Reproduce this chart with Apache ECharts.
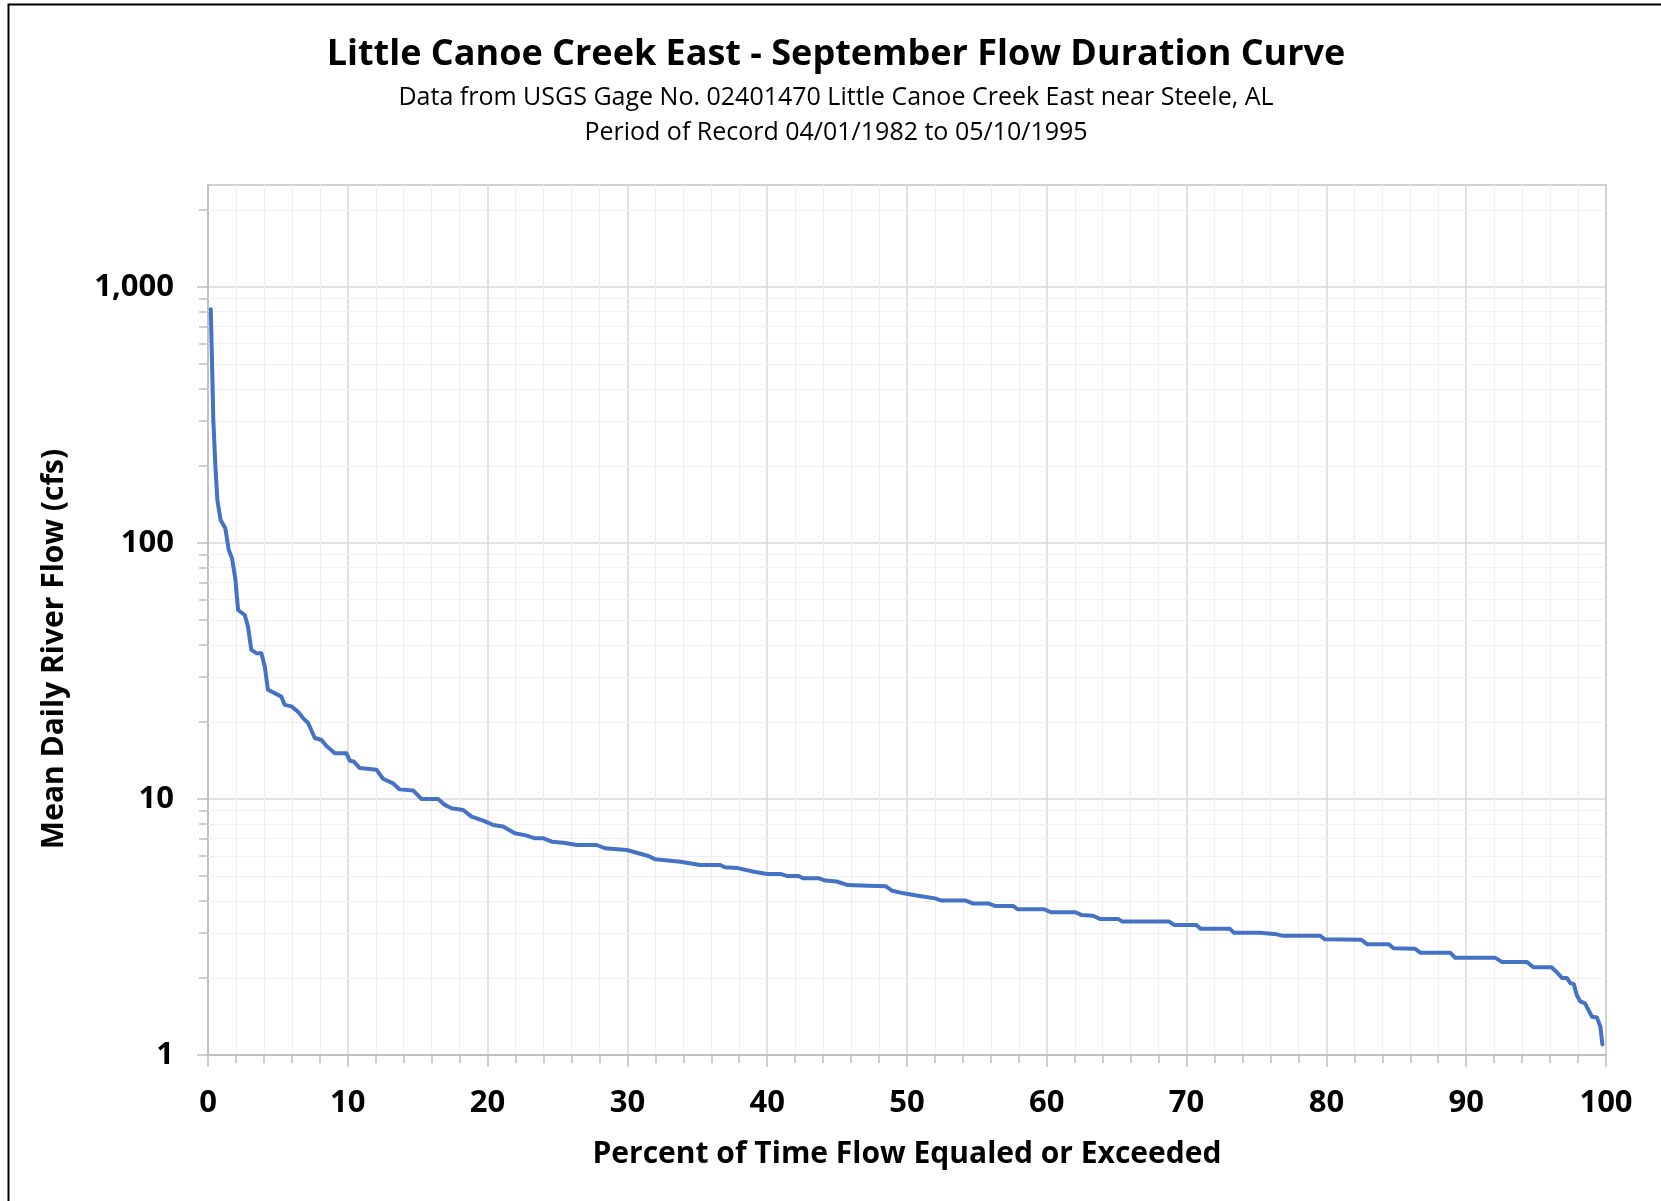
<!DOCTYPE html>
<html>
<head>
<meta charset="utf-8">
<title>Little Canoe Creek East - September Flow Duration Curve</title>
<script src="https://cdn.jsdelivr.net/npm/echarts@6/dist/echarts.min.js"></script>
<style>
  html, body { margin: 0; padding: 0; background: #fff; }
  #chart { width: 1661px; height: 1201px; }
</style>
</head>
<body>
<div id="chart"></div>
<script>
// percent of time flow equaled or exceeded
var pct = [0.2, 0.29, 0.38, 0.53, 0.67, 0.9, 1.24, 1.48, 1.72, 1.96,
  2.15, 2.63, 2.86, 3.1, 3.46, 3.82, 4.06, 4.29, 4.77, 5.25,
  5.49, 5.97, 6.44, 6.8, 7.16, 7.64, 8.12, 8.47, 8.83, 9.07,
  9.9, 10.14, 10.43, 10.86, 12.05, 12.52, 13.24, 13.72, 14.67, 15.27,
  16.46, 16.94, 17.42, 18.25, 18.85, 19.68, 20.4, 21.1, 21.95, 22.8,
  23.4, 24.0, 24.6, 25.4, 26.4, 27.8, 28.4, 29.95, 31.5, 32.0,
  33.8, 35.2, 36.65, 36.97, 37.9, 39.05, 40.0, 41.0, 41.45, 42.25,
  42.56, 43.7, 44.16, 44.96, 45.77, 47.2, 48.5, 48.95, 49.76, 50.9,
  52.0, 52.47, 54.2, 54.7, 55.8, 56.3, 57.6, 57.9, 59.8, 60.3,
  62.05, 62.5, 63.3, 63.8, 65.1, 65.4, 68.76, 69.1, 70.7, 71.0,
  73.1, 73.4, 75.25, 76.45, 76.9, 79.55, 79.9, 82.5, 82.9, 84.45,
  84.8, 86.35, 86.7, 88.85, 89.2, 92.06, 92.55, 94.35, 94.8, 96.1,
  96.5, 96.85, 97.2, 97.45, 97.7, 97.9, 98.15, 98.5, 99.0, 99.35,
  99.6, 99.74];
// mean daily river flow, cfs
var flow = [818, 504, 302, 199, 147, 123, 114, 94, 87, 72,
  54.7, 52.3, 47.1, 38.2, 37.1, 37.1, 32.9, 26.7, 25.9, 25.1,
  23.3, 23.0, 21.9, 20.7, 19.8, 17.3, 17.0, 16.1, 15.5, 15.1,
  15.1, 14.1, 14.0, 13.2, 13.0, 12.0, 11.5, 10.9, 10.8, 10.0,
  10.0, 9.48, 9.2, 9.06, 8.53, 8.23, 7.91, 7.8, 7.35, 7.19,
  7.02, 7.02, 6.81, 6.75, 6.61, 6.61, 6.42, 6.32, 5.99, 5.81,
  5.69, 5.52, 5.52, 5.41, 5.37, 5.2, 5.09, 5.09, 5.0, 5.0,
  4.9, 4.9, 4.8, 4.76, 4.61, 4.58, 4.56, 4.38, 4.28, 4.18,
  4.09, 4.01, 4.01, 3.91, 3.91, 3.82, 3.82, 3.71, 3.71, 3.61,
  3.61, 3.52, 3.5, 3.4, 3.4, 3.32, 3.32, 3.22, 3.22, 3.11,
  3.11, 3.0, 3.0, 2.96, 2.92, 2.92, 2.83, 2.82, 2.71, 2.71,
  2.61, 2.6, 2.51, 2.51, 2.4, 2.4, 2.31, 2.31, 2.2, 2.2,
  2.1, 2.0, 2.0, 1.91, 1.89, 1.72, 1.62, 1.59, 1.41, 1.4,
  1.29, 1.10];

// log axis minor lines (2..9 of each decade)
var yMinor = [2, 3, 4, 5, 6, 7, 8, 9,
  20, 30, 40, 50, 60, 70, 80, 90,
  200, 300, 400, 500, 600, 700, 800, 900, 2000];

var titleText = 'Little Canoe Creek East - September Flow Duration Curve';
var subLines = ['Data from USGS Gage No. 02401470 Little Canoe Creek East near Steele, AL',
  'Period of Record 04/01/1982 to 05/10/1995'];

var FONT = '"Open Sans", "Noto Sans", sans-serif';

var points = [];
for (var i = 0; i < pct.length; i++) {
  points.push([pct[i], flow[i]]);
}

var minorLines = [];
for (var j = 0; j < yMinor.length; j++) {
  minorLines.push({ yAxis: yMinor[j] });
}

var myChart = echarts.init(document.getElementById('chart'));
var option = {
  backgroundColor: '#fff',
  animation: false,
  graphic: [
    { type: 'rect', shape: { x: 8.5, y: 4.5, width: 1700, height: 1300 },
      style: { fill: 'none', stroke: '#000', lineWidth: 2 }, silent: true },
    { type: 'text', x: 836, y: 55,
      style: { text: titleText, font: 'bold 36px ' + FONT, fill: '#000', align: 'center', verticalAlign: 'middle' } },
    { type: 'text', x: 836, y: 98,
      style: { text: subLines[0], font: '25px ' + FONT, fill: '#000', align: 'center', verticalAlign: 'middle' } },
    { type: 'text', x: 836, y: 133,
      style: { text: subLines[1], font: '25px ' + FONT, fill: '#000', align: 'center', verticalAlign: 'middle' } }
  ],
  grid: {
    left: 208, right: 55, top: 185, bottom: 146,
    containLabel: false,
    outerBoundsMode: 'none',
    show: true,
    borderColor: '#a6a6a6',
    borderWidth: 1.5
  },
  xAxis: {
    type: 'value',
    min: 0, max: 100, interval: 10,
    name: 'Percent of Time Flow Equaled or Exceeded',
    nameLocation: 'middle',
    nameGap: 84,
    nameTextStyle: { fontFamily: FONT, fontWeight: 'bold', fontSize: 30, color: '#000' },
    axisLine: { lineStyle: { color: '#bfbfbf', width: 2 } },
    axisTick: { show: true, inside: false, length: 12, lineStyle: { color: '#bfbfbf', width: 1.5 } },
    minorTick: { show: true, splitNumber: 5, length: 8, lineStyle: { color: '#bfbfbf', width: 1.5 } },
    axisLabel: { margin: 33, fontFamily: FONT, fontWeight: 'bold', fontSize: 31, color: '#000' },
    splitLine: { show: true, lineStyle: { color: '#d9d9d9', width: 1.5 } },
    minorSplitLine: { show: true, lineStyle: { color: '#efefef', width: 1.2 } }
  },
  yAxis: [{
    type: 'log',
    logBase: 10,
    min: 1, max: 2500, interval: 1,
    name: 'Mean Daily River Flow (cfs)',
    nameLocation: 'middle',
    nameGap: 139,
    nameTextStyle: { fontFamily: FONT, fontWeight: 'bold', fontSize: 30, color: '#000', padding: [0, 58, 0, 0] },
    axisLine: { show: true, lineStyle: { color: '#bfbfbf', width: 2 } },
    axisTick: { show: true, inside: false, length: 11, lineStyle: { color: '#bfbfbf', width: 1.5 } },
    axisLabel: {
      margin: 34, fontFamily: FONT, fontWeight: 'bold', fontSize: 31, color: '#000',
      showMaxLabel: false,
      formatter: function (v) { return Number(v).toLocaleString('en-US'); }
    },
    splitLine: { show: true, lineStyle: { color: '#d9d9d9', width: 1.5 } }
  }, {
    type: 'log',
    logBase: 10,
    min: 1, max: 2500,
    position: 'left',
    axisLine: { show: false },
    axisTick: { show: true, inside: false, length: 9, customValues: yMinor, lineStyle: { color: '#bfbfbf', width: 1.5 } },
    axisLabel: { show: false },
    splitLine: { show: false }
  }],
  series: [{
    type: 'line',
    name: 'minor grid',
    yAxisIndex: 0,
    data: points,
    z: 1,
    silent: true,
    symbol: 'none',
    lineStyle: { opacity: 0 },
    markLine: {
      silent: true,
      symbol: ['none', 'none'],
      label: { show: false },
      lineStyle: { type: 'solid', color: '#efefef', width: 1.2 },
      data: minorLines
    }
  }, {
    type: 'line',
    name: 'Flow',
    yAxisIndex: 0,
    data: points,
    z: 5,
    symbol: 'none',
    lineStyle: { color: '#4472C4', width: 4, join: 'round', cap: 'round' }
  }]
};
myChart.setOption(option);
</script>
</body>
</html>
